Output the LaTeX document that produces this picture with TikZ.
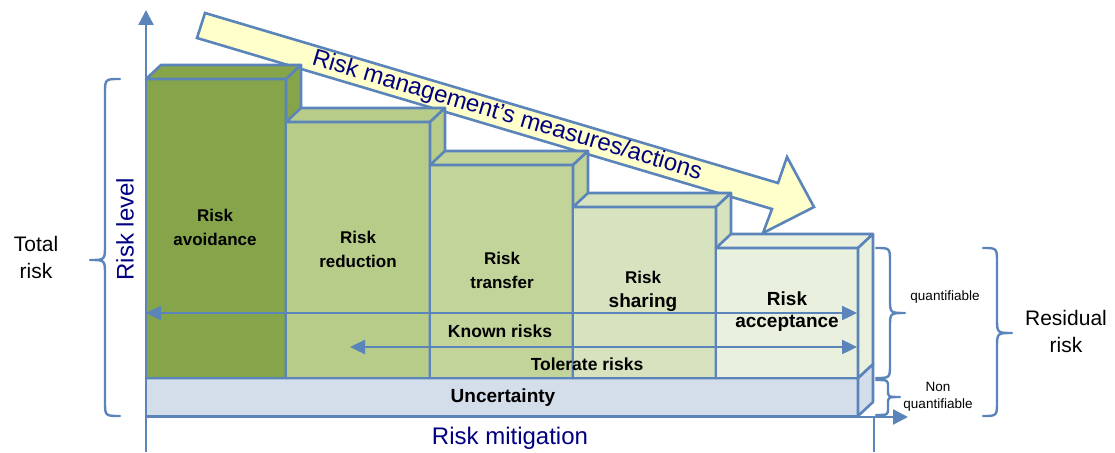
\documentclass[tikz,border=0pt]{standalone}
\usepackage{fontspec}
\setmainfont{Liberation Sans}
\usetikzlibrary{arrows.meta}

\definecolor{edge}{RGB}{90,132,186}
\definecolor{navy}{RGB}{0,0,128}
\definecolor{blockA}{RGB}{134,164,74}
\definecolor{blockB}{RGB}{184,204,138}
\definecolor{blockC}{RGB}{194,212,154}
\definecolor{blockD}{RGB}{215,227,190}
\definecolor{blockE}{RGB}{234,240,222}
\definecolor{uncert}{RGB}{212,222,235}
\definecolor{arrowfill}{RGB}{255,255,204}

\tikzset{
  face/.style={draw=edge, line width=2.6pt, line join=round},
  axis/.style={draw=edge, line width=2.4pt, -{Triangle[length=15pt,width=15pt]}},
  span/.style={draw=edge, line width=2.4pt, {Triangle[length=15pt,width=14pt]}-{Triangle[length=15pt,width=14pt]}},
  curly/.style={draw=edge, line width=2.4pt, line cap=round, line join=round},
  lbl/.style={font=\bfseries\fontsize{17}{24}\selectfont, align=center, inner sep=0pt},
  navytext/.style={text=navy, inner sep=0pt, font=\fontsize{24}{28}\selectfont},
  side/.style={font=\fontsize{21}{27}\selectfont, align=center, inner sep=0pt},
  small/.style={font=\fontsize{13.5}{17}\selectfont, align=center, inner sep=0pt}
}

% a box seen in perspective: x-left, x-right, y-top, y-bottom, colour
\newcommand\solidbox[5]{%
  \filldraw[face, fill=#5] (#1,#3) rectangle (#2,#4);
  \filldraw[face, fill=#5] (#1,#3) -- (#1+15,#3-14) -- (#2+15,#3-14) -- (#2,#3) -- cycle;
  \filldraw[face, fill=#5] (#2,#3) -- (#2+15,#3-14) -- (#2+15,#4-14) -- (#2,#4) -- cycle;
}

% curly brace: end x, spine x, tip x, top y, tip y, bottom y, bend radius
\newcommand\curlybrace[7]{%
  \draw[curly] (#1,#4) .. controls (#2,#4) .. (#2,#4+#7) -- (#2,#5-#7)
    .. controls (#2,#5) .. (#3,#5) .. controls (#2,#5) .. (#2,#5+#7)
    -- (#2,#6-#7) .. controls (#2,#6) .. (#1,#6);
}

\begin{document}
\begin{tikzpicture}[x=1pt, y=-1pt]
\useasboundingbox (0,0) rectangle (1115,452);

% axes
\coordinate (origin) at (146,417);
\coordinate (ytop) at (146,10);
\coordinate (ybase) at (146,452);
\coordinate (xend) at (908,417);
\coordinate (mitR) at (874,417);
\coordinate (mitRb) at (874,452);
\draw[axis] (ybase) -- (ytop);
\draw[draw=edge, line width=2.4pt] (mitR) -- (mitRb);

% the broad arrow of measures, lying behind the blocks
\filldraw[draw=edge, fill=arrowfill, line width=2.6pt, line join=miter]
  (205,13) -- (778,183) -- (787,157) -- (814,207) -- (763,233) -- (772,209) -- (197,38) -- cycle;
\node[navytext, rotate=-16.5] (measures) at (507,116) {Risk management’s measures/actions};

% uncertainty layer
\solidbox{146}{858}{378}{416}{uncert}

% the five steps
\solidbox{146}{286}{79}{378}{blockA}
\solidbox{286}{430}{122}{378}{blockB}
\solidbox{430}{573}{165}{378}{blockC}
\solidbox{573}{716}{207}{378}{blockD}
\solidbox{716}{858}{248}{378}{blockE}

\draw[axis] (origin) -- (xend);

% spans of known and tolerated risks
\coordinate (knownL) at (146,313);
\coordinate (knownR) at (857,313);
\coordinate (tolL) at (350,347);
\coordinate (tolR) at (857,347);
\draw[span] (knownL) -- (knownR);
\draw[span] (tolL) -- (tolR);

% block labels
\node[lbl] (avoid) at (215,227) {Risk\\avoidance};
\node[lbl] (reduce) at (358,249) {Risk\\reduction};
\node[lbl] (transfer) at (502,270) {Risk\\transfer};
\node[lbl] (share) at (643,291) {Risk\\{\fontsize{19}{24}\selectfont sharing}};
\node[lbl, font=\bfseries\fontsize{19}{22}\selectfont] (accept) at (787,312) {Risk\\acceptance};
\node[lbl, font=\bfseries\fontsize{17.5}{20}\selectfont] (known) at (500,331) {Known risks};
\node[lbl, font=\bfseries\fontsize{17.5}{20}\selectfont] (tolerate) at (587,364) {Tolerate risks};
\node[lbl, font=\bfseries\fontsize{19}{22}\selectfont] (uncertainty) at (503,398) {Uncertainty};

% axis titles
\node[navytext] (mitigation) at (510,438) {Risk mitigation};
\node[navytext, rotate=90] (level) at (125,229) {Risk level};

% braces and their captions
\curlybrace{120}{105}{90}{79}{260}{416}{15}
\node[side] (total) at (36,257) {Total\\risk};
\curlybrace{876}{890}{905}{248}{313}{378}{14}
\node[small] (quant) at (945,297) {quantifiable};
\curlybrace{876}{888}{900}{380}{397}{415}{7}
\node[small] (nonquant) at (938,397) {Non\\quantifiable};
\curlybrace{983}{997}{1012}{248}{333}{416}{15}
\node[side] (residual) at (1066,331) {Residual\\risk};
\end{tikzpicture}
\end{document}
